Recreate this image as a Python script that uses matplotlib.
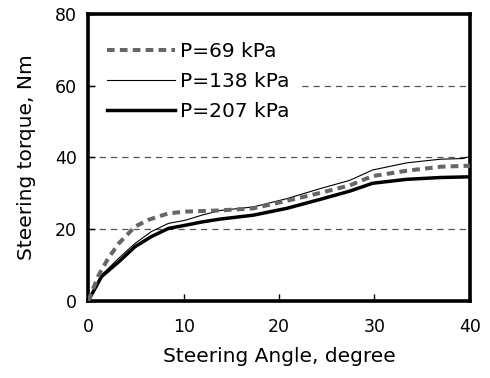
import numpy as np
import matplotlib
matplotlib.use('Agg')
import matplotlib.pyplot as plt

# Data (steering angle in degree, torque in Nm)
ang_69 = [0, 1.1, 2.1, 3.2, 4.9, 6.3, 8.4, 10.2, 13.6, 17.3, 20.8, 24.3, 27.4, 29.8, 33.4, 36.9, 40]
trq_69 = [0, 7.2, 11.9, 16.0, 20.7, 22.6, 24.4, 24.9, 25.2, 25.8, 27.9, 30.1, 32.2, 34.8, 36.3, 37.4, 37.7]

ang_138 = [0, 1.4, 3.2, 4.9, 6.6, 8.4, 10.2, 11.9, 13.8, 17.3, 20.8, 24.3, 27.4, 29.8, 33.4, 36.9, 39.3, 40]
trq_138 = [0, 7.2, 11.9, 16.0, 19.3, 21.6, 22.5, 23.9, 25.2, 26.2, 28.5, 31.3, 33.6, 36.5, 38.5, 39.5, 39.7, 40.3]

ang_207 = [0, 1.4, 3.2, 4.9, 6.6, 8.4, 10.2, 11.9, 13.8, 17.3, 20.8, 24.3, 27.4, 29.8, 33.4, 36.9, 40]
trq_207 = [0, 6.8, 10.9, 15.1, 17.9, 20.2, 21.1, 22.0, 22.8, 23.9, 25.8, 28.3, 30.6, 32.8, 33.9, 34.4, 34.6]

labels = ['P=69 kPa', 'P=138 kPa', 'P=207 kPa']

plt.rcParams['font.family'] = ['DejaVu Sans']

fig = plt.figure(figsize=(4.9, 3.78), dpi=100)
ax = fig.add_axes([0.18, 0.204, 0.779, 0.759])

# Grid lines
for g in [20, 40, 60]:
    ax.axhline(g, color='#555555', lw=0.9, ls=(0, (5, 4)), zorder=1)

ax.plot(ang_69, trq_69, color='#666666', lw=2.9, ls=(0, (1.9, 1.3)), label=labels[0], zorder=3)
ax.plot(ang_138, trq_138, color='black', lw=0.8, label=labels[1], zorder=2)
ax.plot(ang_207, trq_207, color='black', lw=2.5, label=labels[2], zorder=2)

ax.set_xlim(0, 40)
ax.set_ylim(0, 80)
ax.set_xticks([0, 10, 20, 30, 40])
ax.set_yticks([0, 20, 40, 60, 80])
ax.tick_params(direction='in', length=5, width=1, labelsize=12.5)
ax.tick_params(axis='x', pad=12)
ax.tick_params(axis='y', pad=8)
for s in ax.spines.values():
    s.set_linewidth(2.6)

ax.set_xlabel('Steering Angle, degree', fontsize=14.5, labelpad=8)
ax.set_ylabel('Steering torque, Nm', fontsize=14.5, labelpad=14)

# legend sits on a white box that hides the 60 grid line
leg = ax.legend(loc='upper left', bbox_to_anchor=(0.027, 0.93), frameon=True, fontsize=14.5,
                handlelength=3.4, handletextpad=0.25, labelspacing=0.55, borderaxespad=0,
                borderpad=0.4, fancybox=False)
leg.get_frame().set_facecolor('white')
leg.get_frame().set_edgecolor('none')
leg.get_frame().set_alpha(1)

fig.savefig('out.png', dpi=100)
